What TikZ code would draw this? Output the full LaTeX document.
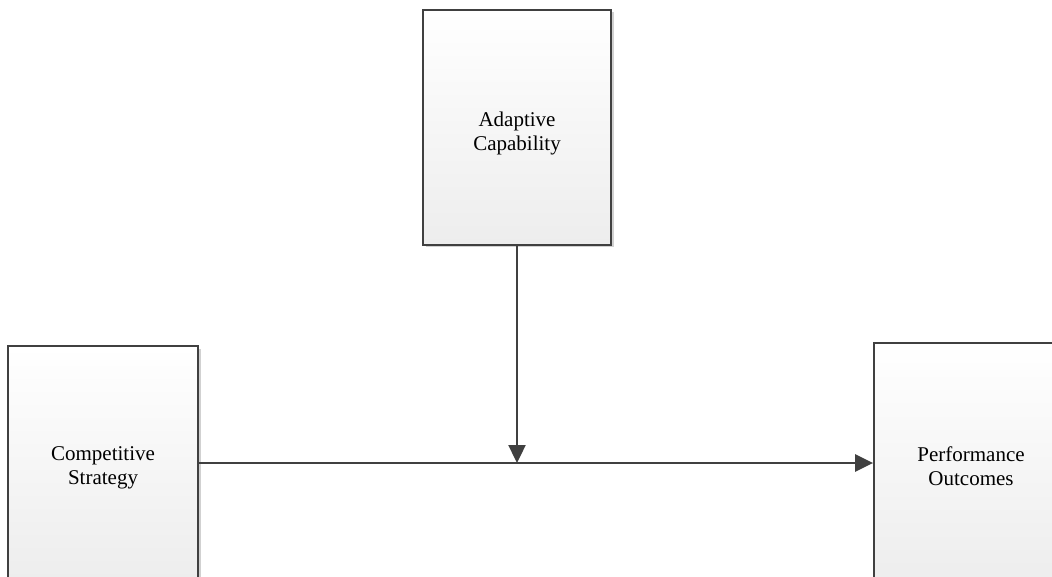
\documentclass[tikz,border=0pt]{standalone}
\usepackage{fontspec}
\setmainfont{Liberation Serif}
\usetikzlibrary{arrows.meta,shadows}
\definecolor{edge}{HTML}{404040}
\definecolor{boxbot}{HTML}{EDEDED}
\tikzset{
  box/.style={draw=edge, line width=1.8pt, top color=white, bottom color=boxbot,
    shading angle=0, inner sep=0pt,
    drop shadow={shadow xshift=2.5pt, shadow yshift=-2.5pt, fill=black, opacity=0.18}},
  lbl/.style={align=center, inner sep=0pt, font=\fontsize{21}{23.5}\selectfont},
  conn/.style={draw=edge, line width=2.4pt, -{Triangle[length=18pt,width=17pt]}}
}
\begin{document}
\begin{tikzpicture}[x=1pt,y=-1pt]
\useasboundingbox (0,0) rectangle (1052,577);
\clip (0,0) rectangle (1052,577);
\node[box, minimum width=188pt, minimum height=235pt] (ac) at (517,127.5) {};
\node[box, minimum width=190pt, minimum height=234pt] (cs) at (103,463) {};
\node[box, minimum width=194pt, minimum height=240pt] (po) at (971,463) {};
\node[lbl] (act) at ([yshift=-6pt]ac.center) {Adaptive\\Capability};
\node[lbl] (cst) at ([yshift=-5pt]cs.center) {Competitive\\Strategy};
\node[lbl] (pot) at ([yshift=-3pt]po.center) {Performance\\Outcomes};
\draw[conn] (cs.east) -- (po.west);
\coordinate (meet) at (ac.south |- cs.east);
\draw[conn] (ac.south) -- (meet);
\end{tikzpicture}
\end{document}
